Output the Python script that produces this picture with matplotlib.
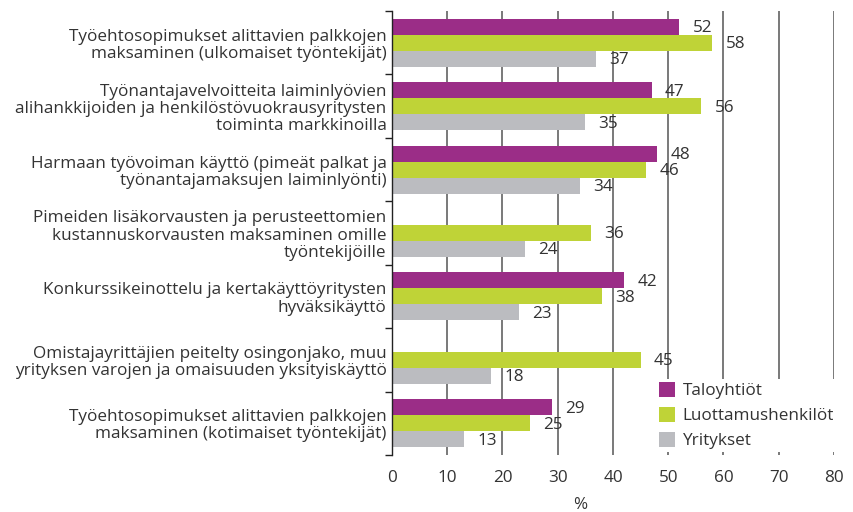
import numpy as np
import matplotlib
matplotlib.use("Agg")
import matplotlib.pyplot as plt

categories = [
    "Työehtosopimukset alittavien palkkojen\nmaksaminen (ulkomaiset työntekijät)",
    "Työnantajavelvoitteita laiminlyövien\nalihankkijoiden ja henkilöstövuokrausyritysten\ntoiminta markkinoilla",
    "Harmaan työvoiman käyttö (pimeät palkat ja\ntyönantajamaksujen laiminlyönti)",
    "Pimeiden lisäkorvausten ja perusteettomien\nkustannuskorvausten maksaminen omille\ntyöntekijöille",
    "Konkurssikeinottelu ja kertakäyttöyritysten\nhyväksikäyttö",
    "Omistajayrittäjien peitelty osingonjako, muu\nyrityksen varojen ja omaisuuden yksityiskäyttö",
    "Työehtosopimukset alittavien palkkojen\nmaksaminen (kotimaiset työntekijät)",
]
series_names = ["Taloyhtiöt", "Luottamushenkilöt", "Yritykset"]
taloyhtiot = [52, 47, 48, None, 42, None, 29]
luottamushenkilot = [58, 56, 46, 36, 38, 45, 25]
yritykset = [37, 35, 34, 24, 23, 18, 13]
x_ticks = [0, 10, 20, 30, 40, 50, 60, 70, 80]

colors = ["#9b2d87", "#bfd337", "#bbbcc0"]
text_color = "#333333"
fs = 12.3

plt.rcParams["font.family"] = ["Open Sans", "DejaVu Sans"]
plt.rcParams["font.size"] = fs
plt.rcParams["text.color"] = text_color

fig = plt.figure(figsize=(8.54, 5.12), dpi=100)
ax = fig.add_axes([392 / 854, 1 - 455 / 512, (834 - 392) / 854, (455 - 11) / 512])

y = np.arange(len(categories))
bar_h = 0.252
all_series = [taloyhtiot, luottamushenkilot, yritykset]
for k, (vals, name, col) in enumerate(zip(all_series, series_names, colors)):
    pos = y + (k - 1) * bar_h
    v = np.array([np.nan if a is None else a for a in vals], dtype=float)
    ax.barh(pos, np.nan_to_num(v), height=bar_h, color=col, label=name, zorder=3)
    for p, val in zip(pos, vals):
        if val is None:
            continue
        ax.annotate(str(val), (val, p), xytext=(9.5, -1), textcoords="offset points",
                    va="center", ha="left", fontsize=fs, color=text_color, zorder=4)

ax.set_xlim(0, 80)
ax.set_ylim(len(categories) - 0.5, -0.5)
ax.set_xticks(x_ticks)
ax.set_xticklabels([str(t) for t in x_ticks])
ax.tick_params(axis="x", length=0, pad=11, labelsize=fs, labelcolor=text_color)

ax.set_yticks(y)
ax.set_yticklabels(categories, ha="right", linespacing=1.1)
ax.tick_params(axis="y", which="major", length=0, pad=4, labelcolor=text_color)
ax.set_yticks(np.arange(len(categories) + 1) - 0.5, minor=True)
ax.tick_params(axis="y", which="minor", length=5, width=1, color="#222222", direction="out")

ax.xaxis.grid(True, color="#555555", linewidth=1.1, zorder=0)
ax.set_axisbelow(True)
for s in ["top", "right", "bottom"]:
    ax.spines[s].set_visible(False)
ax.spines["left"].set_color("#222222")
ax.spines["left"].set_linewidth(1)
ax.spines["left"].set_zorder(5)

ax.set_xlabel("%", fontsize=fs, color=text_color)
ax.xaxis.set_label_coords(0.425, -0.095)

leg = ax.legend(loc="upper left", bbox_to_anchor=(647 / 854, 1 - 370 / 512),
                bbox_transform=fig.transFigure, frameon=True, facecolor="white",
                edgecolor="none", framealpha=1, fancybox=False, handlelength=0.95,
                handleheight=0.95, handletextpad=0.45, labelspacing=0.45,
                borderpad=0.2, fontsize=fs)
leg.set_zorder(6)

fig.savefig("out.png", dpi=100)
